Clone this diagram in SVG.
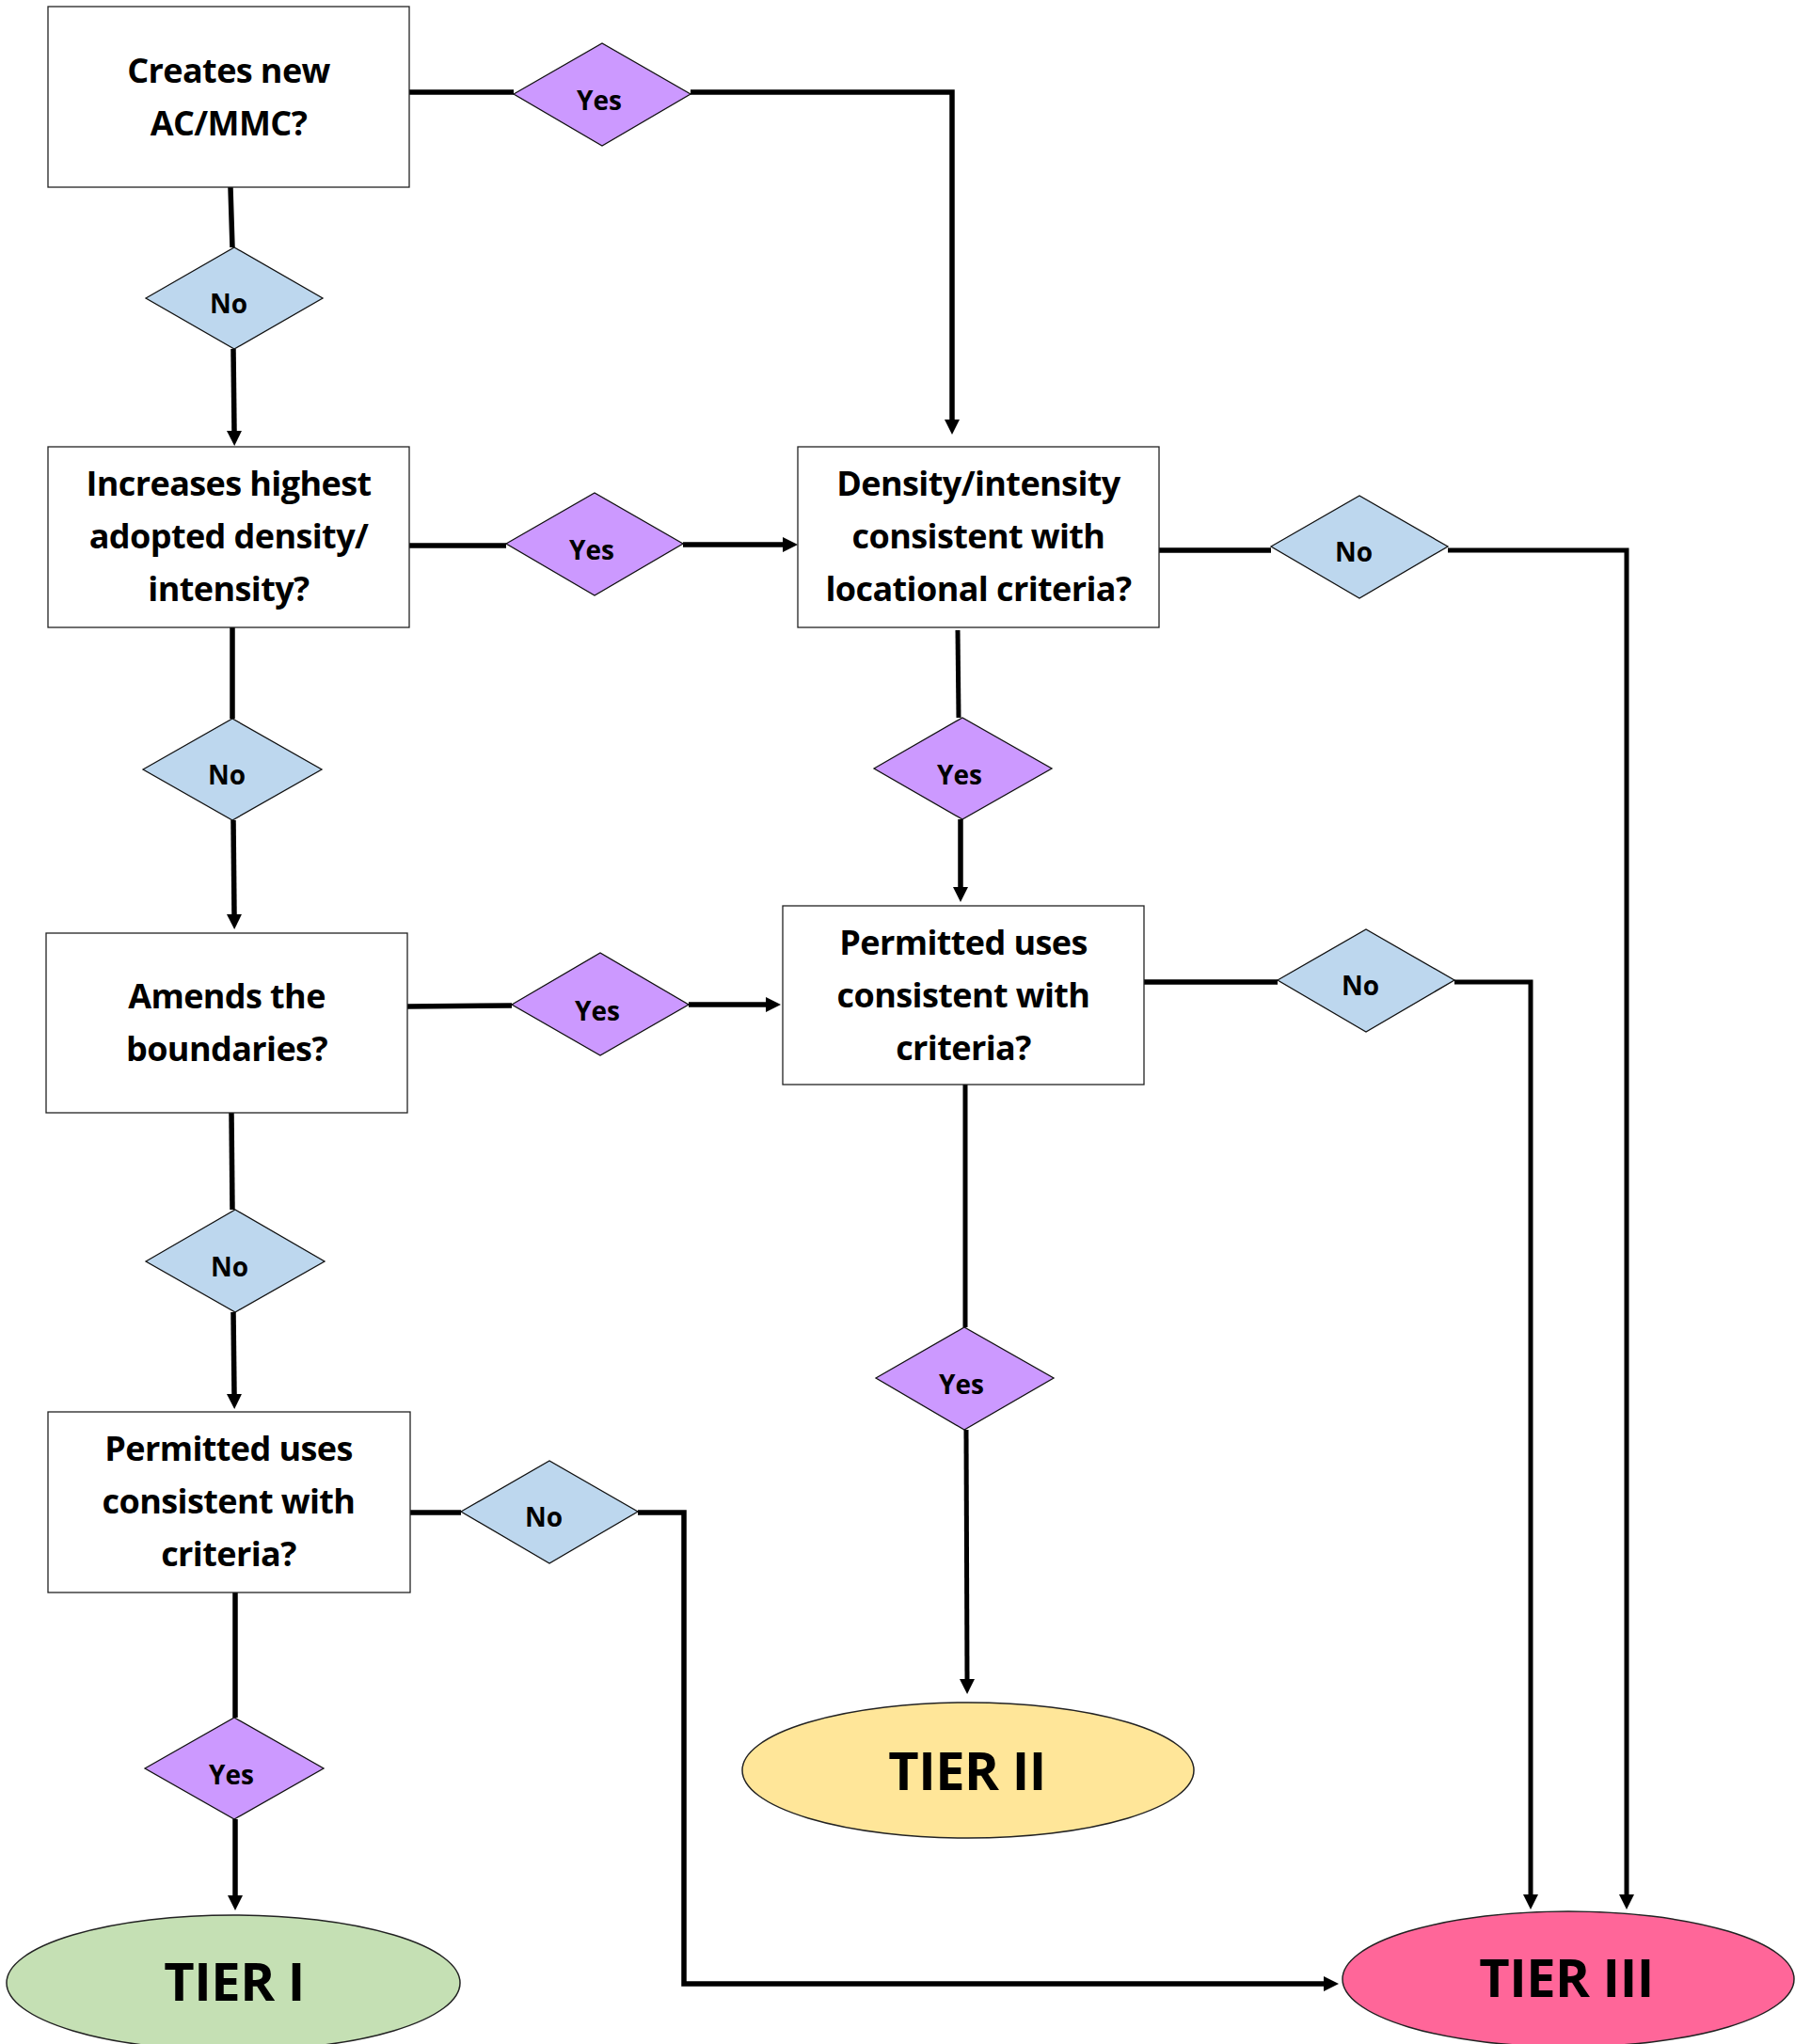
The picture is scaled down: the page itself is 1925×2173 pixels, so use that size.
<svg xmlns="http://www.w3.org/2000/svg" width="1925" height="2173" viewBox="0 0 1925 2173">
<defs>
<marker id="ah" viewBox="0 0 16 16" refX="0" refY="8" markerWidth="16" markerHeight="16" markerUnits="userSpaceOnUse" orient="auto">
<path d="M0,0 L16,8 L0,16 z" fill="#000"/>
</marker>
<style>
.box{fill:#fff;stroke:#222;stroke-width:1.3}
.yes{fill:#cc99ff;stroke:#111;stroke-width:1.3}
.no{fill:#bdd7ee;stroke:#111;stroke-width:1.3}
.t{font-family:"Open Sans","Liberation Sans",sans-serif;font-weight:bold;font-size:36px;letter-spacing:-0.6px;text-anchor:middle;fill:#000}
.d{font-family:"Open Sans","Liberation Sans",sans-serif;font-weight:bold;font-size:28px;text-anchor:middle;fill:#000}
.tier{font-family:"Open Sans","Liberation Sans",sans-serif;font-weight:bold;font-size:56px;letter-spacing:-0.5px;text-anchor:middle;fill:#000}
.c{fill:none;stroke:#000;stroke-width:5.5}
.c3{fill:none;stroke:#000;stroke-width:5}
.a{marker-end:url(#ah)}
</style>
</defs>
<rect width="1925" height="2173" fill="#fff"/>
<g id="connectors">
<path class="c" d="M435,98 L546,98"/>
<path class="c a" d="M734,98 L1012,98 L1012,446"/>
<path class="c" d="M245,199 L247,263"/>
<path class="c a" d="M248,371 L249,458"/>
<path class="c" d="M435,580 L538,580"/>
<path class="c a" d="M726,579 L832,579"/>
<path class="c" d="M247,667 L247,764"/>
<path class="c a" d="M248,872 L249,972"/>
<path class="c3" d="M1018,670 L1019,763"/>
<path class="c a" d="M1021,871 L1021,943"/>
<path class="c" d="M1232,585 L1351,585"/>
<path class="c3 a" d="M1539,585 L1729,585 L1729,2014"/>
<path class="c" d="M433,1070 L544,1069"/>
<path class="c a" d="M732,1068 L814,1068"/>
<path class="c" d="M1216,1044 L1358,1044"/>
<path class="c3 a" d="M1546,1044 L1627,1044 L1627,2014"/>
<path class="c" d="M246,1183 L247,1286"/>
<path class="c a" d="M248,1395 L249,1482"/>
<path class="c3" d="M1026,1153 L1026,1411"/>
<path class="c3 a" d="M1027,1520 L1028,1785"/>
<path class="c" d="M436,1608 L490,1608"/>
<path class="c a" d="M678,1608 L727,1608 L727,2109 L1407,2109"/>
<path class="c" d="M250,1693 L250,1826"/>
<path class="c a" d="M250,1934 L250,2015"/>
</g>
<g id="box1"><rect class="box" x="51" y="7" width="384" height="192"/><text class="t" x="243" y="88">Creates new</text><text class="t" x="243" y="144">AC/MMC?</text></g>
<g id="box2"><rect class="box" x="51" y="475" width="384" height="192"/><text class="t" x="243" y="527">Increases highest</text><text class="t" x="243" y="583">adopted density/</text><text class="t" x="243" y="639">intensity?</text></g>
<g id="box3"><rect class="box" x="848" y="475" width="384" height="192"/><text class="t" x="1040" y="527">Density/intensity</text><text class="t" x="1040" y="583">consistent with</text><text class="t" x="1040" y="639">locational criteria?</text></g>
<g id="box4"><rect class="box" x="832" y="963" width="384" height="190"/><text class="t" x="1024" y="1015">Permitted uses</text><text class="t" x="1024" y="1071">consistent with</text><text class="t" x="1024" y="1127">criteria?</text></g>
<g id="box5"><rect class="box" x="49" y="992" width="384" height="191"/><text class="t" x="241" y="1072">Amends the</text><text class="t" x="241" y="1128">boundaries?</text></g>
<g id="box6"><rect class="box" x="51" y="1501" width="385" height="192"/><text class="t" x="243" y="1553">Permitted uses</text><text class="t" x="243" y="1609">consistent with</text><text class="t" x="243" y="1665">criteria?</text></g>
<g id="d1"><polygon class="yes" points="546,100 640,46 734,100 640,155"/><text class="d" x="637" y="117">Yes</text></g>
<g id="d2"><polygon class="no" points="155,317 249,263 343,317 249,371"/><text class="d" x="243" y="333">No</text></g>
<g id="d3"><polygon class="yes" points="538,578 632,524 726,578 632,633"/><text class="d" x="629" y="595">Yes</text></g>
<g id="d4"><polygon class="no" points="152,818 247,764 342,818 247,872"/><text class="d" x="241" y="834">No</text></g>
<g id="d5"><polygon class="yes" points="929,817 1023,763 1118,817 1023,871"/><text class="d" x="1020" y="834">Yes</text></g>
<g id="d6"><polygon class="no" points="1351,581 1445,527 1539,581 1445,636"/><text class="d" x="1439" y="597">No</text></g>
<g id="d7"><polygon class="yes" points="544,1068 638,1013 732,1068 638,1122"/><text class="d" x="635" y="1085">Yes</text></g>
<g id="d8"><polygon class="no" points="1358,1042 1452,988 1546,1042 1452,1097"/><text class="d" x="1446" y="1058">No</text></g>
<g id="d9"><polygon class="no" points="155,1341 250,1286 345,1341 250,1395"/><text class="d" x="244" y="1357">No</text></g>
<g id="d10"><polygon class="yes" points="931,1465 1025,1411 1120,1465 1025,1520"/><text class="d" x="1022" y="1482">Yes</text></g>
<g id="d11"><polygon class="no" points="490,1607 584,1553 678,1607 584,1662"/><text class="d" x="578" y="1623">No</text></g>
<g id="d12"><polygon class="yes" points="154,1880 249,1826 344,1880 249,1934"/><text class="d" x="246" y="1897">Yes</text></g>
<g id="tier1"><ellipse cx="248" cy="2108" rx="241" ry="72" fill="#c5e0b4" stroke="#222" stroke-width="1.5"/><text class="tier" x="249" y="2127">TIER I</text></g>
<g id="tier2"><ellipse cx="1029" cy="1882" rx="240" ry="72" fill="#ffe699" stroke="#222" stroke-width="1.5"/><text class="tier" x="1028" y="1903">TIER II</text></g>
<g id="tier3"><ellipse cx="1667" cy="2104" rx="240" ry="72" fill="#ff6699" stroke="#222" stroke-width="1.5"/><text class="tier" x="1665" y="2123">TIER III</text></g>
</svg>
